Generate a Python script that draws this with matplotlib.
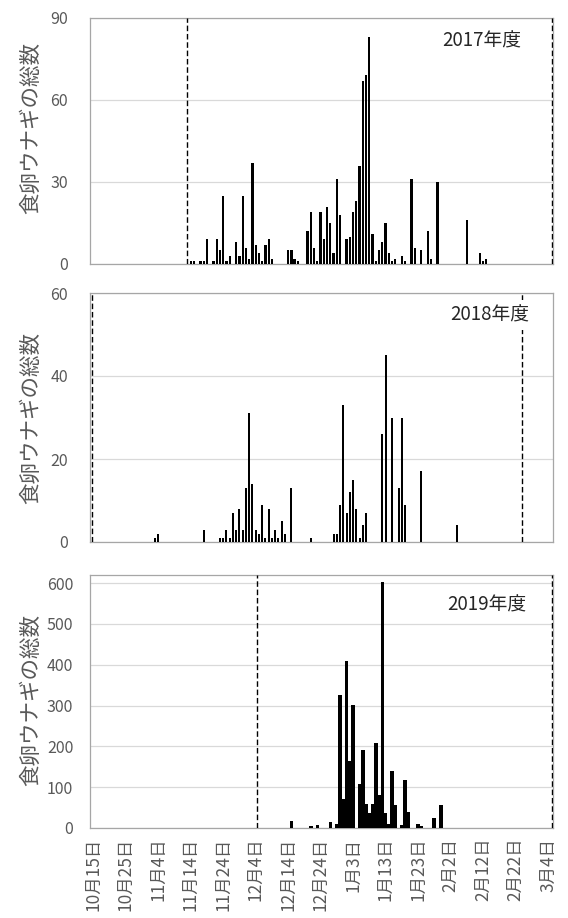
import matplotlib
matplotlib.use("Agg")
import matplotlib.pyplot as plt

plt.rcParams['font.family'] = ['Noto Sans CJK JP', 'DejaVu Sans']

# Day index: 0 = 10月15日
tick_days = list(range(0, 141, 10))
tick_labels = ["10月15日", "10月25日", "11月4日", "11月14日", "11月24日",
               "12月4日", "12月14日", "12月24日", "1月3日", "1月13日",
               "1月23日", "2月2日", "2月12日", "2月22日", "3月4日"]

days_2017 = [30, 31, 33, 34, 35, 37, 38, 39, 40, 41, 42, 44, 45, 46, 47, 48, 49,
             50, 51, 52, 53, 54, 55, 60, 61, 62, 63, 66, 67, 68, 69, 70, 71, 72,
             73, 74, 75, 76, 78, 79, 80, 81, 82, 83, 84, 85, 86, 87, 88, 89, 90,
             91, 92, 93, 95, 96, 98, 99, 101, 103, 104, 106, 115, 119, 120, 121]
counts_2017 = [1, 1, 1, 1, 9, 1, 9, 5, 25, 1, 3, 8, 3, 25, 6, 2, 37,
               7, 4, 1, 7, 9, 2, 5, 5, 2, 1, 12, 19, 6, 1, 19, 9, 21,
               15, 4, 31, 18, 9, 10, 19, 23, 36, 67, 69, 83, 11, 1, 5, 8, 15,
               4, 1, 2, 3, 1, 31, 6, 5, 12, 2, 30, 16, 4, 1, 2]

days_2018 = [19, 20, 34, 39, 40, 41, 42, 43, 44, 45, 46, 47, 48, 49, 50, 51, 52,
             53, 54, 55, 56, 57, 58, 59, 61, 67, 74, 75, 76, 77, 78, 79, 80, 81,
             82, 83, 84, 89, 90, 92, 94, 95, 96, 101, 112]
counts_2018 = [1, 2, 3, 1, 1, 3, 1, 7, 3, 8, 3, 13, 31, 14, 3, 2, 9,
               1, 8, 1, 3, 1, 5, 2, 13, 1, 2, 2, 9, 33, 7, 12, 15, 8,
               1, 4, 7, 26, 45, 30, 13, 30, 9, 17, 4]

days_2019 = [61, 67, 69, 73, 75, 76, 77, 78, 79, 80, 82, 83, 84, 85, 86, 87, 88,
             89, 90, 91, 92, 93, 95, 96, 97, 100, 101, 105, 107]
counts_2019 = [18, 4, 7, 15, 10, 326, 70, 409, 165, 302, 108, 191, 60, 36, 58, 209, 80,
               602, 36, 11, 139, 57, 8, 118, 39, 9, 4, 25, 57]

# Survey period boundaries (dashed lines), in day index
survey_2017 = [29.0, 141.1]
survey_2018 = [-0.3, 132.1]
survey_2019 = [50.5, 141.1]

season_labels = ["2017年度", "2018年度", "2019年度"]
ylabel_text = "食卵ウナギの総数"

W, H = 568, 918
fig = plt.figure(figsize=(W / 100, H / 100), dpi=100)

def rect(left, top, right, bottom):
    return [left / W, (H - bottom) / H, (right - left) / W, (bottom - top) / H]

panels = [
    dict(days=days_2017, counts=counts_2017, ymax=90, yticks=[0, 30, 60, 90],
         width=0.7, survey=survey_2017, label=season_labels[0],
         box=rect(90, 18, 553, 264), lab_xy=(0.931, 0.905), ypad=16, ylab_y=128),
    dict(days=days_2018, counts=counts_2018, ymax=60, yticks=[0, 20, 40, 60],
         width=0.62, survey=survey_2018, label=season_labels[1],
         box=rect(90, 293, 553, 542), lab_xy=(0.948, 0.912), ypad=16, ylab_y=418),
    dict(days=days_2019, counts=counts_2019, ymax=620, yticks=list(range(0, 601, 100)),
         width=1.1, survey=survey_2019, label=season_labels[2],
         box=rect(90, 575, 553, 828), lab_xy=(0.942, 0.883), ypad=12, ylab_y=700),
]

grey_txt = "#595959"
spine_c = "#a6a6a6"
grid_c = "#d9d9d9"

for i, p in enumerate(panels):
    ax = fig.add_axes(p["box"])
    ax.bar(p["days"], p["counts"], width=p["width"], color="black",
           linewidth=0, zorder=3)
    ax.set_xlim(-1.0, 141.55)
    ax.set_ylim(0, p["ymax"])
    ax.set_yticks(p["yticks"])
    ax.yaxis.grid(True, color=grid_c, linewidth=0.9, zorder=0)
    ax.set_axisbelow(True)
    for s in ax.spines.values():
        s.set_color(spine_c)
        s.set_linewidth(0.9)
    ax.tick_params(axis="y", length=0, pad=p["ypad"], labelsize=11.5,
                   labelcolor=grey_txt)
    ax.set_xticks(tick_days)
    if i == 2:
        ax.set_xticklabels(tick_labels, rotation=90, fontsize=12.5, color=grey_txt)
        ax.tick_params(axis="x", length=0, pad=7)
    else:
        ax.set_xticklabels([])
        ax.tick_params(axis="x", length=0)
    for xv in p["survey"]:
        ax.axvline(xv, color="black", linewidth=1.0, linestyle=(0, (4, 2)),
                   zorder=4)
    ax.text(p["lab_xy"][0], p["lab_xy"][1], p["label"], transform=ax.transAxes,
            ha="right", va="center", fontsize=13.5, color="#262626", zorder=6,
            bbox=dict(facecolor="white", edgecolor="none", pad=3.5))
    fig.text(31 / W, (H - p["ylab_y"]) / H, ylabel_text, rotation=90,
             ha="center", va="center", fontsize=15.5, color=grey_txt)

fig.savefig("out.png", dpi=100)
